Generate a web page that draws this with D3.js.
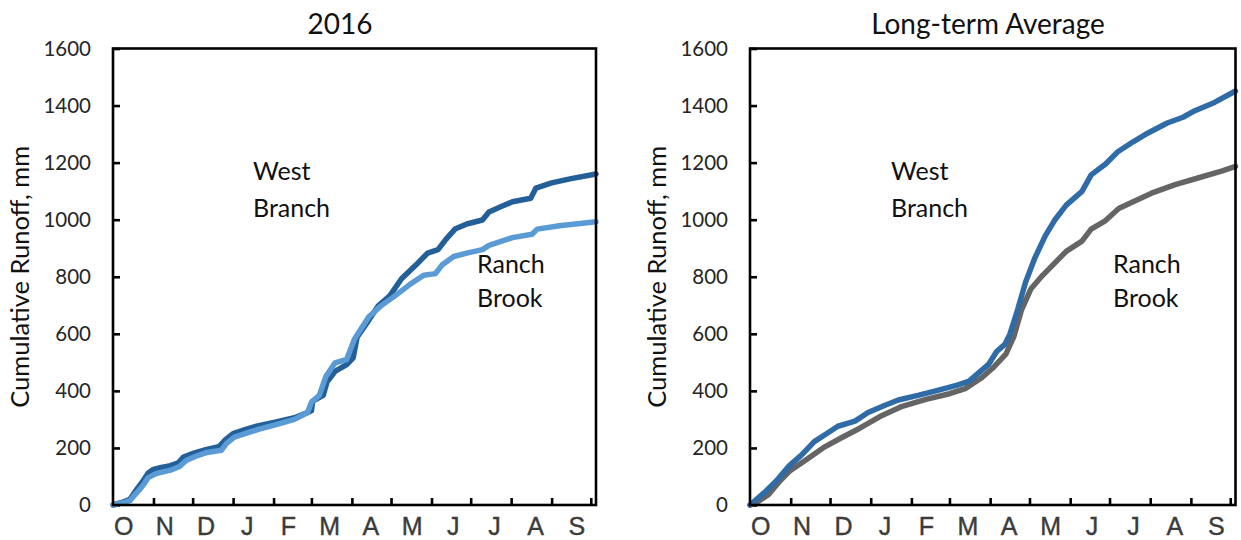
<!DOCTYPE html>
<html lang="en">
  <head>
    <meta charset="UTF-8" />
    <title>Cumulative Runoff</title>
    <script src="https://d3js.org/d3.v7.min.js"></script>
    <style>
      body {
        margin: 0;
        background: #fff;
        font-family: Lato, sans-serif;
      }
      .frame {
        fill: none;
        stroke: #000;
        stroke-width: 2.6px;
      }
      .axis path {
        display: none;
      }
      .axis line {
        stroke: #000;
        stroke-width: 2.6px;
      }
      .axis text {
        font-family: Lato, sans-serif;
        font-size: 20.5px;
        fill: #262626;
      }
      .month {
        font-family: "Liberation Sans", Arial, sans-serif;
        font-size: 25px;
        fill: #3b3b3b;
        text-anchor: middle;
        stroke: #3b3b3b;
        stroke-width: 0.4px;
      }
      .title {
        font-size: 28px;
        fill: #111;
        text-anchor: middle;
      }
      .y-title {
        font-size: 25.5px;
        fill: #111;
        text-anchor: middle;
      }
      .note {
        font-size: 25px;
        fill: #111;
      }
      .runoff {
        fill: none;
        stroke-width: 5.5px;
        stroke-linejoin: round;
        stroke-linecap: round;
      }
    </style>
  </head>
  <body>
    <svg id="chart" width="1241" height="540"></svg>

    <script>
      // month labels and month start (days since Oct 1)
      const months = ["O", "N", "D", "J", "F", "M", "A", "M", "J", "J", "A", "S"];
      const monthStarts = [31, 61, 92, 123, 152, 183, 213, 244, 274, 305, 336, 366];
      const yTicks = [0, 200, 400, 600, 800, 1000, 1200, 1400, 1600];

      // 2016 water year, [day, cumulative runoff mm]
      const westBranch2016 = [
        [0, 0], [6, 8], [13, 20], [16, 40], [19, 60], [23, 84], [27, 112], [31, 125],
        [37, 132], [44, 138], [50, 148], [54, 168], [62, 182], [71, 194], [81, 204],
        [86, 228], [92, 250], [101, 264], [110, 276], [125, 291], [139, 306], [148, 322],
        [152, 330], [153, 364], [161, 384], [164, 432], [170, 468], [179, 492], [184, 516],
        [187, 588], [196, 648], [203, 697], [212, 733], [221, 793], [232, 841], [241, 883],
        [249, 895], [255, 931], [262, 967], [271, 985], [283, 999], [288, 1027], [297, 1045],
        [306, 1063], [320, 1075], [324, 1111], [336, 1129], [351, 1144], [370, 1160]
      ];
      const ranchBrook2016 = [
        [0, 0], [6, 6], [13, 15], [16, 32], [20, 52], [24, 75], [27, 96], [33, 110],
        [44, 122], [51, 135], [56, 156], [63, 170], [71, 183], [83, 192], [87, 216],
        [93, 238], [101, 250], [112, 266], [125, 282], [139, 300], [149, 324], [152, 360],
        [158, 384], [163, 450], [170, 498], [179, 510], [185, 582], [196, 660], [205, 697],
        [216, 733], [228, 775], [238, 805], [247, 811], [252, 841], [261, 871], [271, 883],
        [283, 895], [288, 910], [306, 937], [321, 949], [325, 967], [342, 979], [370, 993]
      ];

      // long-term average, [day, cumulative runoff mm]
      const westBranchAvg = [
        [0, 0], [5, 20], [12, 48], [20, 84], [30, 138], [39, 174], [49, 222], [60, 255],
        [67, 276], [80, 294], [90, 324], [102, 348], [113, 368], [128, 384], [143, 402],
        [158, 420], [167, 434], [174, 462], [182, 494], [188, 538], [194, 562], [198, 598],
        [204, 685], [210, 781], [217, 865], [225, 943], [232, 997], [241, 1051], [253, 1099],
        [260, 1157], [271, 1195], [280, 1237], [292, 1273], [303, 1303], [318, 1339],
        [330, 1359], [339, 1382], [354, 1411], [370, 1451]
      ];
      const ranchBrookAvg = [
        [0, 0], [6, 12], [14, 36], [22, 80], [30, 118], [42, 156], [57, 204], [69, 234],
        [84, 270], [99, 310], [116, 346], [134, 370], [152, 390], [164, 408], [176, 444],
        [185, 480], [195, 529], [201, 589], [207, 685], [214, 757], [223, 805], [232, 847],
        [241, 889], [253, 925], [260, 967], [271, 997], [281, 1039], [292, 1063],
        [306, 1093], [324, 1123], [342, 1147], [360, 1171], [370, 1187]
      ];

      const xDomain = [0, 370];
      const yDomain = [0, 1600];
      const plotTop = 48.5;
      const plotBottom = 505;

      const svg = d3.select("#chart");

      const panels = [
        {
          title: "2016", titleX: 340, left: 113, right: 596, yTitleX: 29,
          series: [
            { data: westBranch2016, color: "#23609a" },
            { data: ranchBrook2016, color: "#5b9bd5" }
          ],
          west: [253, 180], ranch: [477, 273]
        },
        {
          title: "Long-term Average", titleX: 988, left: 750, right: 1235.5, yTitleX: 666,
          series: [
            { data: ranchBrookAvg, color: "#656565" },
            { data: westBranchAvg, color: "#2f6ba6" }
          ],
          west: [891, 180], ranch: [1113, 273]
        }
      ];

      panels.forEach((p) => {
        const x = d3.scaleLinear().domain(xDomain).range([p.left, p.right]);
        const y = d3.scaleLinear().domain(yDomain).range([plotBottom, plotTop]);
        const monthBand = d3
          .scaleBand()
          .domain(d3.range(months.length))
          .range([p.left - 10, p.right + 1.5]);

        const g = svg.append("g");

        // title
        g.append("text")
          .attr("class", "title")
          .attr("x", p.titleX)
          .attr("y", 34)
          .text(p.title);

        // y axis title
        g.append("text")
          .attr("class", "y-title")
          .attr("transform", `translate(${p.yTitleX}, ${(plotTop + plotBottom) / 2}) rotate(-90)`)
          .text("Cumulative Runoff, mm");

        // y axis, ticks pointing inward
        g.append("g")
          .attr("class", "axis")
          .attr("transform", `translate(${p.left}, 0)`)
          .call(
            d3.axisLeft(y)
              .tickValues(yTicks)
              .tickSizeInner(-7)
              .tickSizeOuter(0)
              .tickPadding(22)
              .tickFormat(d3.format("d"))
          );

        // x axis ticks at month starts, pointing inward
        g.append("g")
          .attr("class", "axis")
          .attr("transform", `translate(0, ${plotBottom})`)
          .call(
            d3.axisBottom(x)
              .tickValues(monthStarts)
              .tickSizeInner(-7)
              .tickSizeOuter(0)
              .tickFormat("")
          );

        // month letters
        g.selectAll(".month")
          .data(months)
          .enter()
          .append("text")
          .attr("class", "month")
          .attr("x", (d, i) => monthBand(i) + monthBand.bandwidth() / 2)
          .attr("y", 535)
          .text((d) => d);

        // lines
        const line = d3
          .line()
          .x((d) => x(d[0]))
          .y((d) => y(d[1]));

        p.series.forEach((s) => {
          g.append("path")
            .datum(s.data)
            .attr("class", "runoff")
            .attr("stroke", s.color)
            .attr("d", line);
        });

        // frame
        g.append("rect")
          .attr("class", "frame")
          .attr("x", p.left)
          .attr("y", plotTop)
          .attr("width", p.right - p.left)
          .attr("height", plotBottom - plotTop);

        // labels
        const westText = g.append("text").attr("class", "note");
        westText.append("tspan").attr("x", p.west[0]).attr("y", p.west[1]).text("West");
        westText.append("tspan").attr("x", p.west[0]).attr("y", p.west[1] + 37).text("Branch");

        const ranchText = g.append("text").attr("class", "note");
        ranchText.append("tspan").attr("x", p.ranch[0]).attr("y", p.ranch[1]).text("Ranch");
        ranchText.append("tspan").attr("x", p.ranch[0]).attr("y", p.ranch[1] + 34).text("Brook");
      });
    </script>
  </body>
</html>
